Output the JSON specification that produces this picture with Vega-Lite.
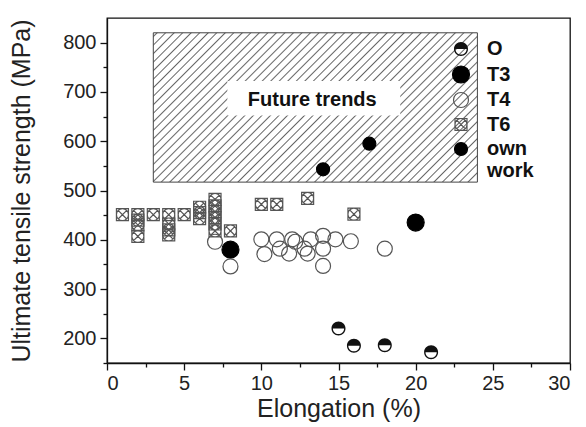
{
  "$schema": "https://vega.github.io/schema/vega-lite/v6.json",
  "width": 463,
  "height": 345,
  "autosize": "none",
  "padding": {"left": 107, "top": 18, "right": 16, "bottom": 64},
  "background": "white",
  "config": {
    "font": "Liberation Sans",
    "view": {"stroke": "#111", "strokeWidth": 1.3},
    "axis": {
      "grid": false,
      "domainColor": "#111",
      "domainWidth": 1.3,
      "tickColor": "#111",
      "tickWidth": 1.3,
      "labelFont": "Liberation Sans",
      "labelFontSize": 20,
      "labelColor": "#222",
      "titleFont": "Liberation Sans",
      "titleFontSize": 25,
      "titleFontWeight": "normal",
      "titleColor": "#222"
    }
  },
  "resolve": {"scale": {"x": "independent", "y": "independent"}, "axis": {"x": "independent", "y": "independent"}},
  "layer": [
    {
      "data": {"values": [{"x": 3, "x2": 24, "y": 517, "y2": 820}]},
      "mark": {
        "type": "rect",
        "stroke": "#444",
        "strokeWidth": 1,
        "fill": {
          "gradient": "linear",
          "x1": 0, "y1": 0, "x2": 1.205, "y2": 0.5551,
          "stops": [
            {"offset": 0, "color": "#ffffff"},
            {"offset": 0.005, "color": "#ffffff"}, {"offset": 0.008, "color": "#666666"}, {"offset": 0.011, "color": "#ffffff"},
            {"offset": 0.023, "color": "#ffffff"}, {"offset": 0.026, "color": "#666666"}, {"offset": 0.029, "color": "#ffffff"},
            {"offset": 0.041, "color": "#ffffff"}, {"offset": 0.044, "color": "#666666"}, {"offset": 0.047, "color": "#ffffff"},
            {"offset": 0.059, "color": "#ffffff"}, {"offset": 0.062, "color": "#666666"}, {"offset": 0.065, "color": "#ffffff"},
            {"offset": 0.077, "color": "#ffffff"}, {"offset": 0.080, "color": "#666666"}, {"offset": 0.083, "color": "#ffffff"},
            {"offset": 0.095, "color": "#ffffff"}, {"offset": 0.098, "color": "#666666"}, {"offset": 0.101, "color": "#ffffff"},
            {"offset": 0.113, "color": "#ffffff"}, {"offset": 0.116, "color": "#666666"}, {"offset": 0.119, "color": "#ffffff"},
            {"offset": 0.131, "color": "#ffffff"}, {"offset": 0.134, "color": "#666666"}, {"offset": 0.137, "color": "#ffffff"},
            {"offset": 0.149, "color": "#ffffff"}, {"offset": 0.152, "color": "#666666"}, {"offset": 0.155, "color": "#ffffff"},
            {"offset": 0.167, "color": "#ffffff"}, {"offset": 0.170, "color": "#666666"}, {"offset": 0.173, "color": "#ffffff"},
            {"offset": 0.185, "color": "#ffffff"}, {"offset": 0.188, "color": "#666666"}, {"offset": 0.191, "color": "#ffffff"},
            {"offset": 0.203, "color": "#ffffff"}, {"offset": 0.206, "color": "#666666"}, {"offset": 0.209, "color": "#ffffff"},
            {"offset": 0.221, "color": "#ffffff"}, {"offset": 0.224, "color": "#666666"}, {"offset": 0.227, "color": "#ffffff"},
            {"offset": 0.239, "color": "#ffffff"}, {"offset": 0.242, "color": "#666666"}, {"offset": 0.245, "color": "#ffffff"},
            {"offset": 0.257, "color": "#ffffff"}, {"offset": 0.260, "color": "#666666"}, {"offset": 0.263, "color": "#ffffff"},
            {"offset": 0.275, "color": "#ffffff"}, {"offset": 0.278, "color": "#666666"}, {"offset": 0.281, "color": "#ffffff"},
            {"offset": 0.293, "color": "#ffffff"}, {"offset": 0.296, "color": "#666666"}, {"offset": 0.299, "color": "#ffffff"},
            {"offset": 0.311, "color": "#ffffff"}, {"offset": 0.314, "color": "#666666"}, {"offset": 0.317, "color": "#ffffff"},
            {"offset": 0.329, "color": "#ffffff"}, {"offset": 0.332, "color": "#666666"}, {"offset": 0.335, "color": "#ffffff"},
            {"offset": 0.347, "color": "#ffffff"}, {"offset": 0.350, "color": "#666666"}, {"offset": 0.353, "color": "#ffffff"},
            {"offset": 0.365, "color": "#ffffff"}, {"offset": 0.368, "color": "#666666"}, {"offset": 0.371, "color": "#ffffff"},
            {"offset": 0.383, "color": "#ffffff"}, {"offset": 0.386, "color": "#666666"}, {"offset": 0.389, "color": "#ffffff"},
            {"offset": 0.401, "color": "#ffffff"}, {"offset": 0.404, "color": "#666666"}, {"offset": 0.407, "color": "#ffffff"},
            {"offset": 0.419, "color": "#ffffff"}, {"offset": 0.422, "color": "#666666"}, {"offset": 0.425, "color": "#ffffff"},
            {"offset": 0.437, "color": "#ffffff"}, {"offset": 0.440, "color": "#666666"}, {"offset": 0.443, "color": "#ffffff"},
            {"offset": 0.455, "color": "#ffffff"}, {"offset": 0.458, "color": "#666666"}, {"offset": 0.461, "color": "#ffffff"},
            {"offset": 0.473, "color": "#ffffff"}, {"offset": 0.476, "color": "#666666"}, {"offset": 0.479, "color": "#ffffff"},
            {"offset": 0.491, "color": "#ffffff"}, {"offset": 0.494, "color": "#666666"}, {"offset": 0.497, "color": "#ffffff"},
            {"offset": 0.509, "color": "#ffffff"}, {"offset": 0.512, "color": "#666666"}, {"offset": 0.515, "color": "#ffffff"},
            {"offset": 0.527, "color": "#ffffff"}, {"offset": 0.530, "color": "#666666"}, {"offset": 0.533, "color": "#ffffff"},
            {"offset": 0.545, "color": "#ffffff"}, {"offset": 0.548, "color": "#666666"}, {"offset": 0.551, "color": "#ffffff"},
            {"offset": 0.563, "color": "#ffffff"}, {"offset": 0.566, "color": "#666666"}, {"offset": 0.569, "color": "#ffffff"},
            {"offset": 0.581, "color": "#ffffff"}, {"offset": 0.584, "color": "#666666"}, {"offset": 0.587, "color": "#ffffff"},
            {"offset": 0.599, "color": "#ffffff"}, {"offset": 0.602, "color": "#666666"}, {"offset": 0.605, "color": "#ffffff"},
            {"offset": 0.617, "color": "#ffffff"}, {"offset": 0.620, "color": "#666666"}, {"offset": 0.623, "color": "#ffffff"},
            {"offset": 0.635, "color": "#ffffff"}, {"offset": 0.638, "color": "#666666"}, {"offset": 0.641, "color": "#ffffff"},
            {"offset": 0.653, "color": "#ffffff"}, {"offset": 0.656, "color": "#666666"}, {"offset": 0.659, "color": "#ffffff"},
            {"offset": 0.671, "color": "#ffffff"}, {"offset": 0.674, "color": "#666666"}, {"offset": 0.677, "color": "#ffffff"},
            {"offset": 0.689, "color": "#ffffff"}, {"offset": 0.692, "color": "#666666"}, {"offset": 0.695, "color": "#ffffff"},
            {"offset": 0.707, "color": "#ffffff"}, {"offset": 0.710, "color": "#666666"}, {"offset": 0.713, "color": "#ffffff"},
            {"offset": 0.725, "color": "#ffffff"}, {"offset": 0.728, "color": "#666666"}, {"offset": 0.731, "color": "#ffffff"},
            {"offset": 0.743, "color": "#ffffff"}, {"offset": 0.746, "color": "#666666"}, {"offset": 0.749, "color": "#ffffff"},
            {"offset": 0.761, "color": "#ffffff"}, {"offset": 0.764, "color": "#666666"}, {"offset": 0.767, "color": "#ffffff"},
            {"offset": 0.779, "color": "#ffffff"}, {"offset": 0.782, "color": "#666666"}, {"offset": 0.785, "color": "#ffffff"},
            {"offset": 0.797, "color": "#ffffff"}, {"offset": 0.800, "color": "#666666"}, {"offset": 0.803, "color": "#ffffff"},
            {"offset": 0.815, "color": "#ffffff"}, {"offset": 0.818, "color": "#666666"}, {"offset": 0.821, "color": "#ffffff"},
            {"offset": 0.833, "color": "#ffffff"}, {"offset": 0.836, "color": "#666666"}, {"offset": 0.839, "color": "#ffffff"},
            {"offset": 0.851, "color": "#ffffff"}, {"offset": 0.854, "color": "#666666"}, {"offset": 0.857, "color": "#ffffff"},
            {"offset": 0.869, "color": "#ffffff"}, {"offset": 0.872, "color": "#666666"}, {"offset": 0.875, "color": "#ffffff"},
            {"offset": 0.887, "color": "#ffffff"}, {"offset": 0.890, "color": "#666666"}, {"offset": 0.893, "color": "#ffffff"},
            {"offset": 0.905, "color": "#ffffff"}, {"offset": 0.908, "color": "#666666"}, {"offset": 0.911, "color": "#ffffff"},
            {"offset": 0.923, "color": "#ffffff"}, {"offset": 0.926, "color": "#666666"}, {"offset": 0.929, "color": "#ffffff"},
            {"offset": 0.941, "color": "#ffffff"}, {"offset": 0.944, "color": "#666666"}, {"offset": 0.947, "color": "#ffffff"},
            {"offset": 0.959, "color": "#ffffff"}, {"offset": 0.962, "color": "#666666"}, {"offset": 0.965, "color": "#ffffff"},
            {"offset": 0.977, "color": "#ffffff"}, {"offset": 0.980, "color": "#666666"}, {"offset": 0.983, "color": "#ffffff"},
            {"offset": 1, "color": "#ffffff"}
          ]
        }
      },
      "encoding": {
        "x": {"field": "x", "type": "quantitative", "scale": {"domain": [0, 30], "nice": false},
              "axis": {"orient": "bottom", "values": [0, 5, 10, 15, 20, 25, 30], "tickSize": 7, "labelPadding": 3, "title": "Elongation (%)", "titlePadding": 3}},
        "x2": {"field": "x2"},
        "y": {"field": "y", "type": "quantitative", "scale": {"domain": [150, 850], "nice": false},
              "axis": {"orient": "left", "values": [200, 300, 400, 500, 600, 700, 800], "tickSize": 7, "labelPadding": 4, "title": "Ultimate tensile strength (MPa)", "titlePadding": 28}},
        "y2": {"field": "y2"}
      }
    },
    {
      "data": {"values": [{"x": 7.8, "x2": 19, "y": 652, "y2": 722}]},
      "mark": {"type": "rect", "fill": "white", "stroke": null},
      "encoding": {
        "x": {"field": "x", "type": "quantitative", "scale": {"domain": [0, 30], "nice": false},
              "axis": {"orient": "bottom", "values": [2.5, 7.5, 12.5, 17.5, 22.5, 27.5], "tickSize": 4, "labels": false, "domain": false, "title": null}},
        "x2": {"field": "x2"},
        "y": {"field": "y", "type": "quantitative", "scale": {"domain": [150, 850], "nice": false},
              "axis": {"orient": "left", "values": [150, 250, 350, 450, 550, 650, 750], "tickSize": 4, "labels": false, "domain": false, "title": null}},
        "y2": {"field": "y2"}
      }
    },
    {
      "data": {"values": [{"x": 13.3, "y": 683, "t": "Future trends"}]},
      "mark": {"type": "text", "font": "Liberation Sans", "fontSize": 20, "fontWeight": "bold", "color": "#111", "align": "center", "baseline": "middle"},
      "encoding": {
        "x": {"field": "x", "type": "quantitative", "scale": {"domain": [0, 30], "nice": false}, "axis": null},
        "y": {"field": "y", "type": "quantitative", "scale": {"domain": [150, 850], "nice": false}, "axis": null},
        "text": {"field": "t"}
      }
    },
    {
      "data": {"values": [
        {"series": "O", "elong": 15, "uts": 220},
        {"series": "O", "elong": 16, "uts": 185},
        {"series": "O", "elong": 18, "uts": 186},
        {"series": "O", "elong": 21, "uts": 172},
        {"series": "T3", "elong": 8, "uts": 380},
        {"series": "T3", "elong": 20, "uts": 435},
        {"series": "T4", "elong": 7, "uts": 396},
        {"series": "T4", "elong": 8, "uts": 346},
        {"series": "T4", "elong": 10, "uts": 401},
        {"series": "T4", "elong": 10.2, "uts": 371},
        {"series": "T4", "elong": 11, "uts": 401},
        {"series": "T4", "elong": 11.2, "uts": 382},
        {"series": "T4", "elong": 11.8, "uts": 372},
        {"series": "T4", "elong": 12, "uts": 401},
        {"series": "T4", "elong": 12.2, "uts": 396},
        {"series": "T4", "elong": 12.8, "uts": 382},
        {"series": "T4", "elong": 13, "uts": 372},
        {"series": "T4", "elong": 13.2, "uts": 401},
        {"series": "T4", "elong": 14, "uts": 408},
        {"series": "T4", "elong": 14, "uts": 382},
        {"series": "T4", "elong": 14, "uts": 347},
        {"series": "T4", "elong": 14.8, "uts": 401},
        {"series": "T4", "elong": 15.8, "uts": 397},
        {"series": "T4", "elong": 18, "uts": 382},
        {"series": "T6", "elong": 1, "uts": 451},
        {"series": "T6", "elong": 2, "uts": 451},
        {"series": "T6", "elong": 2, "uts": 440},
        {"series": "T6", "elong": 2, "uts": 430},
        {"series": "T6", "elong": 2, "uts": 407},
        {"series": "T6", "elong": 3, "uts": 451},
        {"series": "T6", "elong": 4, "uts": 451},
        {"series": "T6", "elong": 4, "uts": 432},
        {"series": "T6", "elong": 4, "uts": 420},
        {"series": "T6", "elong": 4, "uts": 410},
        {"series": "T6", "elong": 5, "uts": 451},
        {"series": "T6", "elong": 6, "uts": 466},
        {"series": "T6", "elong": 6, "uts": 455},
        {"series": "T6", "elong": 6, "uts": 443},
        {"series": "T6", "elong": 7, "uts": 482},
        {"series": "T6", "elong": 7, "uts": 469},
        {"series": "T6", "elong": 7, "uts": 457},
        {"series": "T6", "elong": 7, "uts": 445},
        {"series": "T6", "elong": 7, "uts": 432},
        {"series": "T6", "elong": 7, "uts": 418},
        {"series": "T6", "elong": 8, "uts": 418},
        {"series": "T6", "elong": 10, "uts": 472},
        {"series": "T6", "elong": 11, "uts": 472},
        {"series": "T6", "elong": 13, "uts": 484},
        {"series": "T6", "elong": 16, "uts": 452},
        {"series": "own work", "elong": 14, "uts": 543},
        {"series": "own work", "elong": 17, "uts": 595}
      ]},
      "mark": {"type": "point", "filled": false, "strokeWidth": 1.2, "opacity": 1},
      "encoding": {
        "x": {"field": "elong", "type": "quantitative", "scale": {"domain": [0, 30], "nice": false}, "axis": null},
        "y": {"field": "uts", "type": "quantitative", "scale": {"domain": [150, 850], "nice": false}, "axis": null},
        "shape": {
          "field": "series", "type": "nominal",
          "scale": {
            "domain": ["O", "T3", "T4", "T6", "own work"],
            "range": [
              "M-1,0A1,1 0 0,1 1,0Z M1,0A1,1 0 0,1 -1,0L-0.8,0A0.8,0.8 0 0,0 0.8,0Z",
              "circle",
              "circle",
              "M-1,-1H1V1H-1Z M-1,0A1,1 0 1,1 1,0A1,1 0 1,1 -1,0Z M-0.72,-0.72L0.72,0.72 M-0.72,0.72L0.72,-0.72",
              "circle"
            ]
          },
          "legend": {
            "title": null,
            "orient": "none",
            "legendX": 344,
            "legendY": 21,
            "padding": 0,
            "labelFont": "Liberation Sans",
            "labelFontSize": 20,
            "labelFontWeight": "bold",
            "labelColor": "#111",
            "labelOffset": 16,
            "rowPadding": 4.5,
            "symbolStrokeWidth": 1.2,
            "symbolOpacity": 1,
            "labelExpr": "datum.label == 'own work' ? ['own', 'work'] : datum.label",
            "encode": {"labels": {"update": {"lineHeight": {"value": 25}, "dy": {"signal": "datum.label == 'own work' ? 12.5 : 0"}}}}
          }
        },
        "fill": {
          "field": "series", "type": "nominal",
          "scale": {"domain": ["O", "T3", "T4", "T6", "own work"], "range": ["#111111", "#000000", "transparent", "transparent", "#000000"]}
        },
        "stroke": {
          "field": "series", "type": "nominal",
          "scale": {"domain": ["O", "T3", "T4", "T6", "own work"], "range": ["transparent", "#000000", "#555555", "#555555", "#000000"]}
        },
        "size": {
          "field": "series", "type": "nominal",
          "scale": {"type": "ordinal", "domain": ["O", "T3", "T4", "T6", "own work"], "range": [196, 289, 225, 144, 169]}
        }
      }
    }
  ]
}
